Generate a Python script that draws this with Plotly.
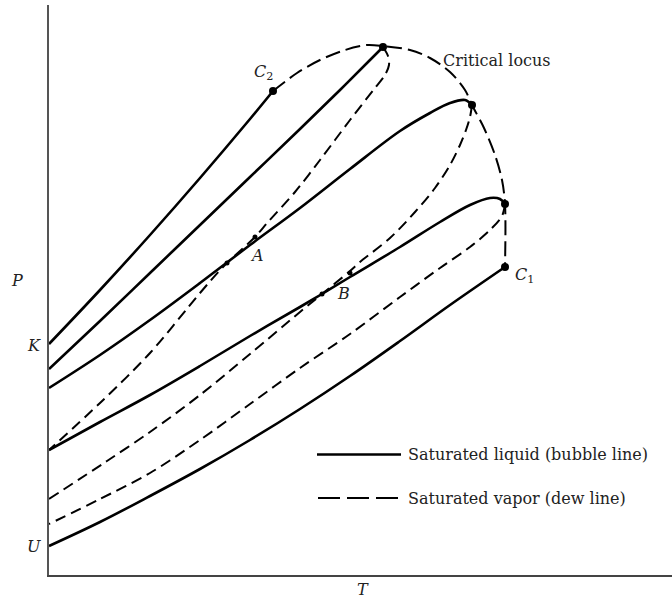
import plotly.graph_objects as go

# Readings in arbitrary units: T from the P axis, P from the T axis
# Saturated liquid (bubble) lines
k_T = [0, 51, 101, 151, 201, 224]
k_P = [231, 285, 340, 397, 456, 484]

b1_T = [0, 51, 101, 151, 201, 251, 291, 321, 334]
b1_P = [206, 254, 302, 350, 398, 446, 485, 515, 528]

b2_T = [0, 51, 101, 151, 201, 251, 301, 351, 381, 401, 416, 423]
b2_P = [187, 220, 255, 292, 330, 367, 406, 444, 462, 472, 475, 470]

b3_T = [0, 51, 101, 151, 201, 251, 273, 301, 351, 391, 421, 441, 451, 456]
b3_P = [125, 153, 180, 209, 239, 268, 281, 298, 328, 353, 370, 377, 376, 371]

u_T = [0, 51, 101, 151, 201, 251, 301, 351, 401, 456]
u_P = [29, 53, 79, 106, 135, 166, 199, 234, 270, 308]

# Saturated vapor (dew) lines
d1_T = [334, 339, 340, 336, 326, 301, 271, 246, 219, 206, 174, 151, 101, 51, 0]
d1_P = [528, 519, 510, 500, 487, 455, 415, 383, 353, 338, 308, 282, 222, 172, 125]

d2_T = [423, 421, 417, 411, 401, 386, 366, 341, 311, 301, 273, 251, 201, 151, 101, 58, 0]
d2_P = [470, 458, 445, 430, 410, 387, 363, 337, 313, 304, 281, 263, 221, 180, 143, 114, 76]

d3_T = [456, 453, 441, 421, 391, 351, 301, 251, 201, 151, 101, 51, 0]
d3_P = [371, 359, 345, 328, 307, 278, 241, 207, 171, 135, 102, 76, 51]

# Critical locus
cl_T = [224, 248, 271, 296, 318, 334, 361, 381, 401, 416, 423, 435, 446, 453, 456, 456]
cl_P = [484, 502, 515, 525, 530, 529, 525, 517, 503, 485, 470, 447, 420, 395, 371, 308]

# Critical points (C2, mixtures, C1)
cp_T = [224, 334, 423, 456, 456]
cp_P = [484, 528, 470, 371, 308]

# Points A and B (tangency marks)
ab_T = [178, 206, 273, 301]
ab_P = [312, 338, 281, 302]

fig = go.Figure()

solid = dict(color="black", width=2.6)
dashed = dict(color="black", width=2, dash="11px,6px")

for tx, py in [(k_T, k_P), (b1_T, b1_P), (b2_T, b2_P), (b3_T, b3_P), (u_T, u_P)]:
    fig.add_trace(go.Scatter(x=tx, y=py, mode="lines",
                             line=dict(**solid, shape="spline", smoothing=1.0),
                             showlegend=False, hoverinfo="skip"))

for tx, py in [(d1_T, d1_P), (d2_T, d2_P), (d3_T, d3_P)]:
    fig.add_trace(go.Scatter(x=tx, y=py, mode="lines",
                             line=dict(**dashed, shape="spline", smoothing=0.9),
                             showlegend=False, hoverinfo="skip"))

fig.add_trace(go.Scatter(x=cl_T, y=cl_P, mode="lines",
                         line=dict(color="black", width=2, dash="15px,6px",
                                   shape="spline", smoothing=0.9),
                         showlegend=False, hoverinfo="skip"))

fig.add_trace(go.Scatter(x=cp_T, y=cp_P, mode="markers",
                         marker=dict(color="black", size=8),
                         showlegend=False, hoverinfo="skip"))
fig.add_trace(go.Scatter(x=ab_T, y=ab_P, mode="markers",
                         marker=dict(color="black", size=5),
                         showlegend=False, hoverinfo="skip"))

serif = "DejaVu Serif"
it = dict(family=serif, size=16, color="#222")
up = dict(family=serif, size=16, color="#222")
ann = []

def lab(text, x, y, **kw):
    d = dict(text=text, x=x, y=y, xref="x", yref="y", showarrow=False, font=it)
    d.update(kw)
    ann.append(d)

lab("<i>C</i><sub>2</sub>", 214, 503)
lab("<i>C</i><sub>1</sub>", 475, 300)
lab("<i>A</i>", 208, 320)
lab("<i>B</i>", 294, 282)
lab("Critical locus", 447, 515, font=up)
lab("<i>K</i>", 0, 230, xref="paper", xanchor="right", xshift=-6)
lab("<i>U</i>", 0, 29, xref="paper", xanchor="right", xshift=-6)
lab("<i>P</i>", 0, 295, xref="paper", xanchor="right", xshift=-24)
lab("<i>T</i>", 314, 0, yref="paper", yanchor="top", yshift=-3)
lab("Saturated liquid (bubble line)", 357, 120.5, xanchor="left", font=up)
lab("Saturated vapor (dew line)", 357, 77, xanchor="left", font=up)

shapes = [
    dict(type="line", x0=268, x1=352, y0=120.5, y1=120.5, xref="x", yref="y",
         line=dict(color="black", width=2.4)),
    dict(type="line", x0=269, x1=349, y0=77, y1=77, xref="x", yref="y",
         line=dict(color="black", width=2, dash="22px,7px")),
]

fig.update_layout(
    width=672, height=599,
    margin=dict(l=49, r=0, t=5, b=24),
    paper_bgcolor="white", plot_bgcolor="white",
    annotations=ann, shapes=shapes,
    xaxis=dict(range=[0, 623], showgrid=False, zeroline=False, showticklabels=False,
               ticks="", showline=True, linecolor="#444", linewidth=2),
    yaxis=dict(range=[0, 570], showgrid=False, zeroline=False, showticklabels=False,
               ticks="", showline=True, linecolor="#555", linewidth=2),
)

fig.write_html("out.html", config={"displayModeBar": False},
               post_script="document.body.style.margin='0';document.body.style.overflow='hidden';")
